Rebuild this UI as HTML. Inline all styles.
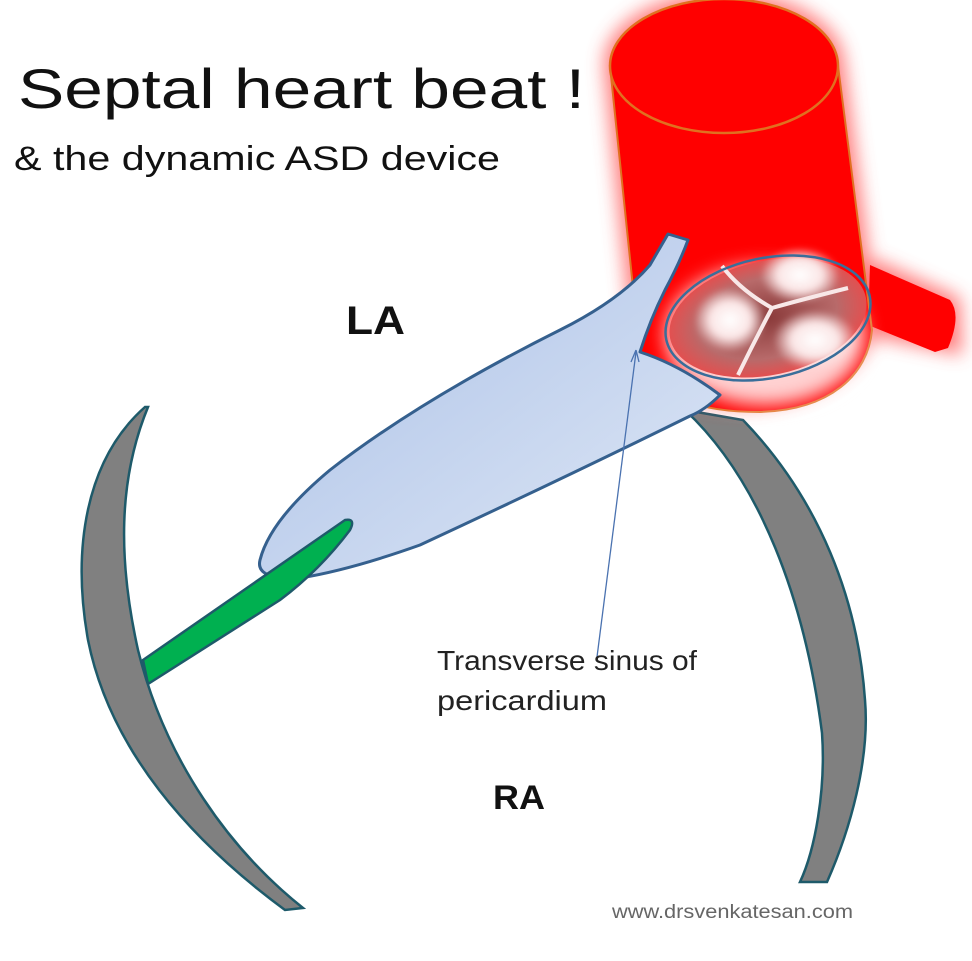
<!DOCTYPE html>
<html><head><meta charset="utf-8"><style>
html,body{margin:0;padding:0;background:#fff;}
svg{display:block}
</style></head><body>
<svg width="972" height="961" viewBox="0 0 972 961" xmlns="http://www.w3.org/2000/svg">
<defs>
<linearGradient id="la" x1="0" y1="0" x2="1" y2="1">
<stop offset="0" stop-color="#a9bfe6"/><stop offset="1" stop-color="#dfe8f6"/>
</linearGradient>
<radialGradient id="cusp" cx="0.5" cy="0.5" r="0.5">
<stop offset="0" stop-color="#fff"/><stop offset="0.55" stop-color="#fbe6e6"/><stop offset="1" stop-color="#fbe6e6" stop-opacity="0"/>
</radialGradient>
<radialGradient id="vbase" cx="0.5" cy="0.5" r="0.5">
<stop offset="0" stop-color="#8a3a3a"/><stop offset="0.7" stop-color="#b86a6a"/><stop offset="1" stop-color="#e25050"/>
</radialGradient>
<filter id="glow" x="-20%" y="-20%" width="140%" height="140%"><feGaussianBlur stdDeviation="9"/></filter>
<filter id="soft"><feGaussianBlur stdDeviation="3"/></filter>
</defs>
<!-- text -->
<text x="18" y="108" font-family="Liberation Sans, sans-serif" font-size="56" fill="#111" textLength="567" lengthAdjust="spacingAndGlyphs">Septal heart beat !</text>
<text x="14" y="170" font-family="Liberation Sans, sans-serif" font-size="34" fill="#111" textLength="486" lengthAdjust="spacingAndGlyphs">&amp;  the dynamic ASD device</text>

<!-- right gray arc -->
<path d="M685,410 C760,480 805,600 822,733 C826,790 815,850 800,882 L827,882 C850,830 870,760 865,700 C858,600 820,500 743,420 Z" fill="#808080" stroke="#1e5a6a" stroke-width="2.5"/>

<!-- cylinder glow -->
<g filter="url(#glow)" opacity="0.75">
<path d="M604,66 L634,362 C680,428 830,425 878,330 L844,60 Z" fill="#ff5050"/>
<ellipse cx="724" cy="64" rx="120" ry="72" fill="#ff5050"/>
<path d="M872,258 L960,298 L962,355 L866,335 Z" fill="#ff5050"/>
</g>
<!-- side tube -->
<path d="M870,265 L950,300 Q962,315 948,348 L935,352 L868,325 Z" fill="#ff0000"/>
<!-- cylinder body -->
<path d="M610,66 L640,355 C660,400 700,412 760,412 C830,410 868,375 872,330 L838,66 Z" fill="#ff0000" stroke="#e07020" stroke-width="2"/>
<ellipse cx="724" cy="66" rx="114" ry="67" fill="#ff0000" stroke="#e07020" stroke-width="2.5"/>
<!-- valve -->
<g filter="url(#glow)"><ellipse cx="765" cy="335" rx="100" ry="70" fill="#ffe8e8" opacity="0.9"/></g>
<ellipse cx="768" cy="318" rx="100" ry="57" transform="rotate(-12 768 318)" fill="url(#vbase)"/>
<g filter="url(#soft)">
<ellipse cx="730" cy="320" rx="36" ry="32" fill="url(#cusp)"/>
<ellipse cx="800" cy="275" rx="40" ry="28" fill="url(#cusp)"/>
<ellipse cx="815" cy="340" rx="42" ry="30" fill="url(#cusp)"/>
</g>
<path d="M722,266 Q740,290 772,308 Q800,300 848,288 M772,308 Q755,340 738,375" stroke="#f8e8e8" stroke-width="4" fill="none"/>
<ellipse cx="768" cy="318" rx="104" ry="60" transform="rotate(-12 768 318)" fill="none" stroke="#3a6e9a" stroke-width="2.5"/>

<!-- LA shape -->
<path d="M668,234 L688,240 Q680,262 665,290 Q650,320 640,352 Q680,365 720,395 Q705,410 690,416 Q560,480 420,545 Q350,570 300,578 Q255,580 260,560 Q270,520 330,470 Q420,400 560,330 Q620,300 650,265 Z" fill="url(#la)" stroke="#35608e" stroke-width="3" stroke-linejoin="round"/>
<!-- green flap -->
<path d="M143,660 L345,520 Q356,518 350,530 Q320,570 280,600 L148,684 Z" fill="#00b050" stroke="#1e5a6a" stroke-width="2.5"/>
<!-- left gray arc -->
<path d="M148,407 C118,480 118,560 138,650 C165,760 230,850 303,908 L285,910 C190,840 110,750 88,640 C72,550 85,460 145,407 Z" fill="#808080" stroke="#1e5a6a" stroke-width="2.5"/>

<!-- pointer line -->
<line x1="597" y1="657" x2="636" y2="352" stroke="#4a72b0" stroke-width="1.3"/>
<path d="M636,350 L631,362 M636,350 L639,362" stroke="#4a72b0" stroke-width="1.3"/>

<text x="346" y="334" font-family="Liberation Sans, sans-serif" font-size="40" font-weight="bold" fill="#111" textLength="59" lengthAdjust="spacingAndGlyphs">LA</text>
<text x="493" y="809" font-family="Liberation Sans, sans-serif" font-size="34" font-weight="bold" fill="#111" textLength="52" lengthAdjust="spacingAndGlyphs">RA</text>
<text x="437" y="670" font-family="Liberation Sans, sans-serif" font-size="28" fill="#222" textLength="260" lengthAdjust="spacingAndGlyphs">Transverse sinus of</text>
<text x="437" y="710" font-family="Liberation Sans, sans-serif" font-size="28" fill="#222" textLength="170" lengthAdjust="spacingAndGlyphs">pericardium</text>
<text x="612" y="918" font-family="Liberation Sans, sans-serif" font-size="19" fill="#666" textLength="241" lengthAdjust="spacingAndGlyphs">www.drsvenkatesan.com</text>
</svg>
</body></html>
